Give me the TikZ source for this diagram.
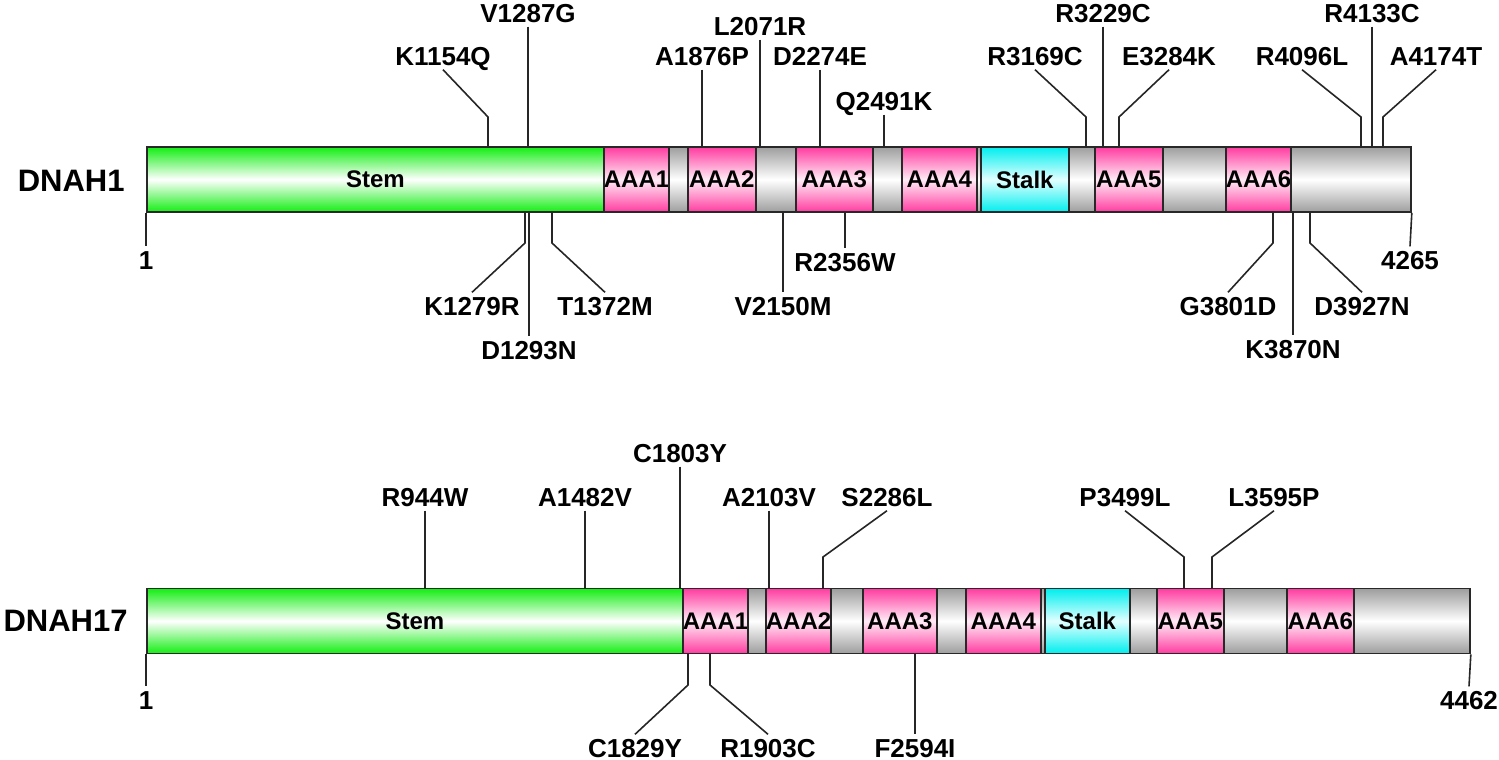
\documentclass[tikz,border=0pt]{standalone}
\usepackage{fontspec}
\setmainfont{Liberation Sans}
\definecolor{stemg}{RGB}{20,238,20}
\definecolor{pinkc}{RGB}{255,60,160}
\definecolor{pinkm}{RGB}{255,236,246}
\definecolor{grayc}{RGB}{158,158,158}
\definecolor{cyanc}{RGB}{0,238,238}
\definecolor{cyanm}{RGB}{226,255,255}
\definecolor{edge}{RGB}{40,40,40}
% name, x1, x2, style, ycenter, text
\newcommand\dseg[6]{\node[#4, minimum width={(#3-#2)*0.5pt}, anchor=west] (#1) at (#2,#5) {#6};}
% name, text, lx, ly, tx, knee y, bar y
\newcommand\mutup[7]{\node[mut] (#1) at (#3,#4) {#2};
  \coordinate (#1k) at (#5,#6); \coordinate (#1t) at (#5,#7);
  \draw[lead] (#1.south) -- (#1k) -- (#1t);}
\newcommand\mutdn[7]{\node[mut] (#1) at (#3,#4) {#2};
  \coordinate (#1k) at (#5,#6); \coordinate (#1t) at (#5,#7);
  \draw[lead] (#1t) -- (#1k) -- (#1.north);}
\begin{document}
\begin{tikzpicture}[x=0.5pt,y=-0.5pt,
  seg/.style={draw=edge, line width=0.9pt, minimum height=32.5pt, inner sep=0pt,
    font=\bfseries\fontsize{12}{13}\selectfont},
  stemseg/.style={seg, top color=stemg, bottom color=stemg, middle color=white},
  aaaseg/.style={seg, top color=pinkc, bottom color=pinkc, middle color=pinkm},
  linkseg/.style={seg, top color=grayc, bottom color=grayc, middle color=white},
  stalkseg/.style={seg, top color=cyanc, bottom color=cyanc, middle color=cyanm},
  mut/.style={inner sep=2pt, text height=9.3pt, text depth=0pt,
    font=\bfseries\fontsize{13}{14}\selectfont},
  gene/.style={inner sep=0pt, font=\bfseries\fontsize{15.5}{17}\selectfont},
  lead/.style={draw=black!85, line width=0.8pt}]
\useasboundingbox (0,0) rectangle (1499,760);

% ---------------- DNAH1 ----------------
\node[gene, anchor=east] (g1) at (125,181) {DNAH1};
\dseg{a1}{146}{603}{stemseg}{179.5}{Stem}
\dseg{a2}{603}{668}{aaaseg}{179.5}{AAA1}
\dseg{a3}{668}{687}{linkseg}{179.5}{}
\dseg{a4}{687}{755}{aaaseg}{179.5}{AAA2}
\dseg{a5}{755}{795}{linkseg}{179.5}{}
\dseg{a6}{795}{872}{aaaseg}{179.5}{AAA3}
\dseg{a7}{872}{901}{linkseg}{179.5}{}
\dseg{a8}{901}{976}{aaaseg}{179.5}{AAA4}
\dseg{a9}{976}{980}{linkseg}{179.5}{}
\dseg{a10}{980}{1068}{stalkseg}{179.5}{Stalk}
\dseg{a11}{1068}{1094}{linkseg}{179.5}{}
\dseg{a12}{1094}{1162}{aaaseg}{179.5}{AAA5}
\dseg{a13}{1162}{1225}{linkseg}{179.5}{}
\dseg{a14}{1225}{1290}{aaaseg}{179.5}{AAA6}
\dseg{a15}{1290}{1410}{linkseg}{179.5}{}

\mutup{m1}{K1154Q}{443}{56}{488}{117}{147}
\mutup{m2}{V1287G}{528}{13}{528}{117}{147}
\mutup{m3}{A1876P}{702}{56}{702}{117}{147}
\mutup{m4}{L2071R}{760}{26}{760}{117}{147}
\mutup{m5}{D2274E}{820}{56}{820}{117}{147}
\mutup{m6}{Q2491K}{884}{101}{884}{117}{147}
\mutup{m7}{R3169C}{1035}{56}{1086}{117}{147}
\mutup{m8}{R3229C}{1103}{13}{1103}{117}{147}
\mutup{m9}{E3284K}{1169}{56}{1119}{117}{147}
\mutup{m10}{R4096L}{1302}{56}{1361}{117}{147}
\mutup{m11}{R4133C}{1372}{13}{1372}{117}{147}
\mutup{m12}{A4174T}{1436}{56}{1383}{117}{147}

\node[mut] (s1) at (146,260) {1};
\draw[lead] (a1.south west) -- (s1.north);
\node[mut] (e1) at (1410,260) {4265};
\draw[lead] (a15.south east) -- (e1.north);

\mutdn{b1}{K1279R}{472}{306}{525}{243}{212}
\mutdn{b2}{D1293N}{529}{350}{529}{243}{212}
\mutdn{b3}{T1372M}{605}{306}{552}{243}{212}
\mutdn{b4}{V2150M}{783}{306}{783}{243}{212}
\mutdn{b5}{R2356W}{845}{262}{845}{243}{212}
\mutdn{b6}{G3801D}{1228}{306}{1273}{243}{212}
\mutdn{b7}{K3870N}{1293}{349}{1293}{243}{212}
\mutdn{b8}{D3927N}{1362}{306}{1310}{243}{212}

% ---------------- DNAH17 ----------------
\node[gene, anchor=east] (g2) at (128,621) {DNAH17};
\dseg{c1}{146}{682}{stemseg}{621}{Stem}
\dseg{c2}{682}{747}{aaaseg}{621}{AAA1}
\dseg{c3}{747}{765}{linkseg}{621}{}
\dseg{c4}{765}{830}{aaaseg}{621}{AAA2}
\dseg{c5}{830}{862}{linkseg}{621}{}
\dseg{c6}{862}{936}{aaaseg}{621}{AAA3}
\dseg{c7}{936}{965}{linkseg}{621}{}
\dseg{c8}{965}{1040}{aaaseg}{621}{AAA4}
\dseg{c9}{1040}{1044}{linkseg}{621}{}
\dseg{c10}{1044}{1129}{stalkseg}{621}{Stalk}
\dseg{c11}{1129}{1156}{linkseg}{621}{}
\dseg{c12}{1156}{1223}{aaaseg}{621}{AAA5}
\dseg{c13}{1223}{1286}{linkseg}{621}{}
\dseg{c14}{1286}{1353}{aaaseg}{621}{AAA6}
\dseg{c15}{1353}{1469}{linkseg}{621}{}

\mutup{n1}{R944W}{425}{497}{425}{557}{588.5}
\mutup{n2}{A1482V}{585}{497}{585}{557}{588.5}
\mutup{n3}{C1803Y}{680}{453}{680}{557}{588.5}
\mutup{n4}{A2103V}{769}{497}{769}{557}{588.5}
\mutup{n5}{S2286L}{887}{497}{823}{557}{588.5}
\mutup{n6}{P3499L}{1125}{497}{1184}{557}{588.5}
\mutup{n7}{L3595P}{1274}{497}{1212}{557}{588.5}

\node[mut] (s2) at (146,700) {1};
\draw[lead] (c1.south west) -- (s2.north);
\node[mut] (e2) at (1469,700) {4462};
\draw[lead] (c15.south east) -- (e2.north);

\mutdn{d1}{C1829Y}{635}{748}{688}{685}{653.5}
\mutdn{d2}{R1903C}{768}{748}{710}{685}{653.5}
\mutdn{d3}{F2594I}{915}{748}{915}{685}{653.5}
\end{tikzpicture}
\end{document}
